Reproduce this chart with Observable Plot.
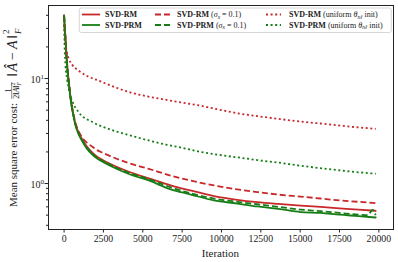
<!DOCTYPE html>
<html><head><meta charset="utf-8">
<script src="https://cdn.jsdelivr.net/npm/d3@7"></script>
<script src="https://cdn.jsdelivr.net/npm/@observablehq/plot@0.6"></script>
<style>html,body{margin:0;padding:0;background:#fff}</style>
</head><body><div id="chart"></div>
<script>
// ---- data ----
const itA = [0, 40, 90, 160, 235, 330, 450, 580, 720, 900, 1140, 1450, 1780, 2100, 2500, 3260, 4200, 5380, 6775, 8000, 9524, 11000, 12280, 13600, 15030, 16300, 17500, 18700, 19800];
const rmSolid  = [40, 31, 24, 16, 11.5, 8.5, 6.0, 4.6, 3.7, 3.1, 2.65, 2.25, 1.98, 1.8, 1.66, 1.46, 1.28, 1.12, 0.96, 0.86, 0.76, 0.70, 0.665, 0.64, 0.617, 0.60, 0.58, 0.565, 0.55];
const prmSolid = [40, 30, 23, 15.5, 11, 8.2, 5.8, 4.5, 3.6, 3.0, 2.55, 2.15, 1.9, 1.73, 1.6, 1.4, 1.22, 1.07, 0.88, 0.79, 0.69, 0.645, 0.605, 0.575, 0.535, 0.525, 0.505, 0.49, 0.475];
const rmDashed = [40, 31, 24, 16, 11.6, 8.6, 6.1, 4.7, 3.8, 3.2, 2.75, 2.45, 2.25, 2.08, 1.95, 1.74, 1.55, 1.38, 1.19, 1.07, 0.96, 0.88, 0.83, 0.785, 0.75, 0.72, 0.69, 0.67, 0.65];
const itB = [0, 40, 90, 160, 235, 330, 450, 580, 720, 900, 1140, 1450, 1780, 2100, 2500, 3260, 4200, 5380, 6775, 8000, 9524, 11000, 12280, 13600, 15030, 16300, 17500, 18700, 19300, 19600, 19800];
const prmDashed = [40, 30.5, 23.5, 15.8, 11.2, 8.4, 5.9, 4.6, 3.65, 3.05, 2.6, 2.2, 1.93, 1.76, 1.63, 1.43, 1.25, 1.1, 0.92, 0.81, 0.72, 0.67, 0.635, 0.6, 0.565, 0.545, 0.525, 0.505, 0.5, 0.56, 0.5];
const itC = [0, 30, 90, 180, 300, 500, 930, 1500, 2200, 3200, 4300, 5200, 6400, 7500, 8700, 10000, 11200, 12300, 13500, 15000, 16500, 18000, 19800];
const rmDotted = [40, 28, 20.6, 17.5, 15.4, 13.6, 11.9, 10.5, 9.55, 8.3, 7.3, 6.8, 6.3, 5.9, 5.5, 5.0, 4.62, 4.38, 4.15, 3.9, 3.7, 3.5, 3.32];
const itD = [0, 30, 90, 190, 340, 550, 930, 1800, 2400, 3260, 4300, 5380, 6400, 7300, 8700, 10000, 11200, 12300, 13500, 15000, 16500, 18000, 19800];
const prmDotted = [40, 22, 13.3, 9.9, 7.4, 5.95, 4.77, 3.85, 3.5, 3.15, 2.85, 2.57, 2.36, 2.22, 2.0, 1.86, 1.76, 1.67, 1.59, 1.48, 1.39, 1.31, 1.24];

const xTicks = [0, 2500, 5000, 7500, 10000, 12500, 15000, 17500, 20000];
const yMajor = [1, 10];
const yMajorLabels = ["0", "1"];
const yMinor = [0.4, 0.5, 0.6, 0.7, 0.8, 0.9, 2, 3, 4, 5, 6, 7, 8, 9, 20, 30, 40];

const RED = "#c9282b", GREEN = "#167d16";
const rows = (xs, ys) => xs.map((x, i) => ({it: x, v: ys[i]}));

const series = [
  {data: rows(itA, rmSolid),  stroke: RED,   dash: null},
  {data: rows(itA, prmSolid), stroke: GREEN, dash: null},
  {data: rows(itA, rmDashed), stroke: RED,   dash: "6,3"},
  {data: rows(itB, prmDashed),stroke: GREEN, dash: "6,3"},
  {data: rows(itC, rmDotted), stroke: RED,   dash: "2,2.6"},
  {data: rows(itD, prmDotted),stroke: GREEN, dash: "2,2.6"}
];

const plot = Plot.plot({
  width: 398, height: 262,
  marginLeft: 48, marginRight: 5, marginTop: 5, marginBottom: 33,
  style: {fontFamily: "Liberation Serif", fontSize: "9.5px", background: "#fff", color: "#222"},
  x: {domain: [-990, 20930]},
  y: {type: "log", domain: [0.365, 49.6]},
  marks: [
    Plot.axisX(xTicks, {tickSize: 3.5, tickPadding: 2.5, tickFormat: d => String(d), label: null, fontSize: 9.8}),
    Plot.axisY(yMajor, {tickSize: 3.5, tickFormat: () => "", label: null}),
    Plot.axisY(yMinor, {tickSize: 2, tickFormat: () => "", label: null}),
    ...series.map(s => Plot.line(s.data, {x: "it", y: "v", stroke: s.stroke, strokeWidth: 1.8,
        strokeDasharray: s.dash || undefined, curve: "monotone-x", strokeLinecap: s.dash ? "butt" : "round"})),
    Plot.frame({stroke: "#222", strokeWidth: 1})
  ]
});
document.getElementById("chart").appendChild(plot);

const svg = d3.select(plot);
const yS = plot.scale("y");
const xS = plot.scale("x");
const FONT = "Liberation Serif";

// y major tick labels 10^k
yMajor.forEach((v, i) => {
  const t = svg.append("text").attr("x", 44).attr("y", yS.apply(v) + 5)
    .attr("text-anchor", "end").attr("font-family", FONT).attr("font-size", 10).attr("fill", "#222");
  t.append("tspan").text("10");
  t.append("tspan").attr("dy", -4.5).attr("font-size", 7).text(yMajorLabels[i]);
});

// x label
svg.append("text").attr("x", (xS.range[0] + xS.range[1]) / 2).attr("y", 257)
  .attr("text-anchor", "middle").attr("font-family", FONT).attr("font-size", 11).attr("fill", "#222").text("Iteration");

// y label (rotated, with fraction)
const gy = svg.append("g").attr("transform", "translate(16.5,207) rotate(-90)")
  .attr("font-family", FONT).attr("fill", "#222").attr("text-anchor", "start");
function put(g, str, x, y, size, italic) {
  const t = g.append("text").attr("x", x).attr("y", y).attr("font-size", size).attr("text-anchor", "start").text(str);
  if (italic) t.attr("font-style", "italic");
  return t.node().getComputedTextLength();
}
let cx = put(gy, "Mean square error cost:", 0, 0, 11) + 4;
// fraction 1 / (2||A||_F^2)
let dx = cx;
dx += put(gy, "2\u2016", dx, 2.2, 8);
dx += put(gy, "A", dx, 2.2, 8, true);
dx += put(gy, "\u2016", dx, 2.2, 8);
const w2 = put(gy, "2", dx, -1.3, 5.5);
put(gy, "F", dx, 4.2, 5.5, true);
dx += w2 + 0.8;
const denW = dx - cx;
gy.append("line").attr("x1", cx).attr("x2", cx + denW).attr("y1", -4.8).attr("y2", -4.8)
  .attr("stroke", "#222").attr("stroke-width", 0.5);
gy.append("text").attr("x", cx + denW / 2).attr("y", -6).attr("font-size", 8).attr("text-anchor", "middle").text("1");
cx += denW + 5;
cx += put(gy, "\u2016", cx, 0, 14) + 1.5;
cx += put(gy, "\u00C2", cx, 0, 14, true) + 3;
cx += put(gy, "\u2212", cx, 0, 14) + 3;
cx += put(gy, "A", cx, 0, 14, true) + 1.5;
cx += put(gy, "\u2016", cx, 0, 14) + 1;
put(gy, "2", cx, -7.5, 9);
put(gy, "F", cx, 4, 9, true);

// legend
const lg = svg.append("g").attr("font-family", FONT).attr("font-size", 8).attr("fill", "#222").attr("text-anchor", "start");
lg.append("rect").attr("x", 79.3).attr("y", 8).attr("width", 312).attr("height", 24.5).attr("rx", 2)
  .attr("fill", "#fff").attr("fill-opacity", 0.85).attr("stroke", "#cccccc").attr("stroke-width", 0.8);
const colLine = [[82, 100], [155, 171], [266, 281]];
const colText = [105, 177, 289];
const rowY = [14.5, 25];
const legendItems = [
  {col: 0, row: 0, s: 0, name: "SVD-RM", kind: "plain"},
  {col: 0, row: 1, s: 1, name: "SVD-PRM", kind: "plain"},
  {col: 1, row: 0, s: 2, name: "SVD-RM", kind: "sigma"},
  {col: 1, row: 1, s: 3, name: "SVD-PRM", kind: "sigma"},
  {col: 2, row: 0, s: 4, name: "SVD-RM", kind: "theta"},
  {col: 2, row: 1, s: 5, name: "SVD-PRM", kind: "theta"}
];
legendItems.forEach(it => {
  const s = series[it.s];
  const y = rowY[it.row];
  lg.append("line").attr("x1", colLine[it.col][0]).attr("x2", colLine[it.col][1]).attr("y1", y).attr("y2", y)
    .attr("stroke", s.stroke).attr("stroke-width", 1.8).attr("stroke-dasharray", s.dash || null);
  const t = lg.append("text").attr("x", colText[it.col]).attr("y", y + 2.8).attr("text-anchor", "start");
  t.append("tspan").attr("font-weight", "bold").text(it.name);
  if (it.kind === "sigma") {
    t.append("tspan").text(" (");
    t.append("tspan").attr("font-style", "italic").text("\u03C3");
    t.append("tspan").attr("font-style", "italic").attr("font-size", 5.5).attr("dy", 1.5).text("x");
    t.append("tspan").attr("dy", -1.5).text(" = 0.1)");
  } else if (it.kind === "theta") {
    t.append("tspan").text(" (uniform ");
    t.append("tspan").attr("font-style", "italic").text("\u03B8");
    t.append("tspan").attr("font-style", "italic").attr("font-size", 5.5).attr("dy", 1.5).text("n\u2113");
    t.append("tspan").attr("dy", -1.5).text(" init)");
  }
});
</script>
</body></html>
